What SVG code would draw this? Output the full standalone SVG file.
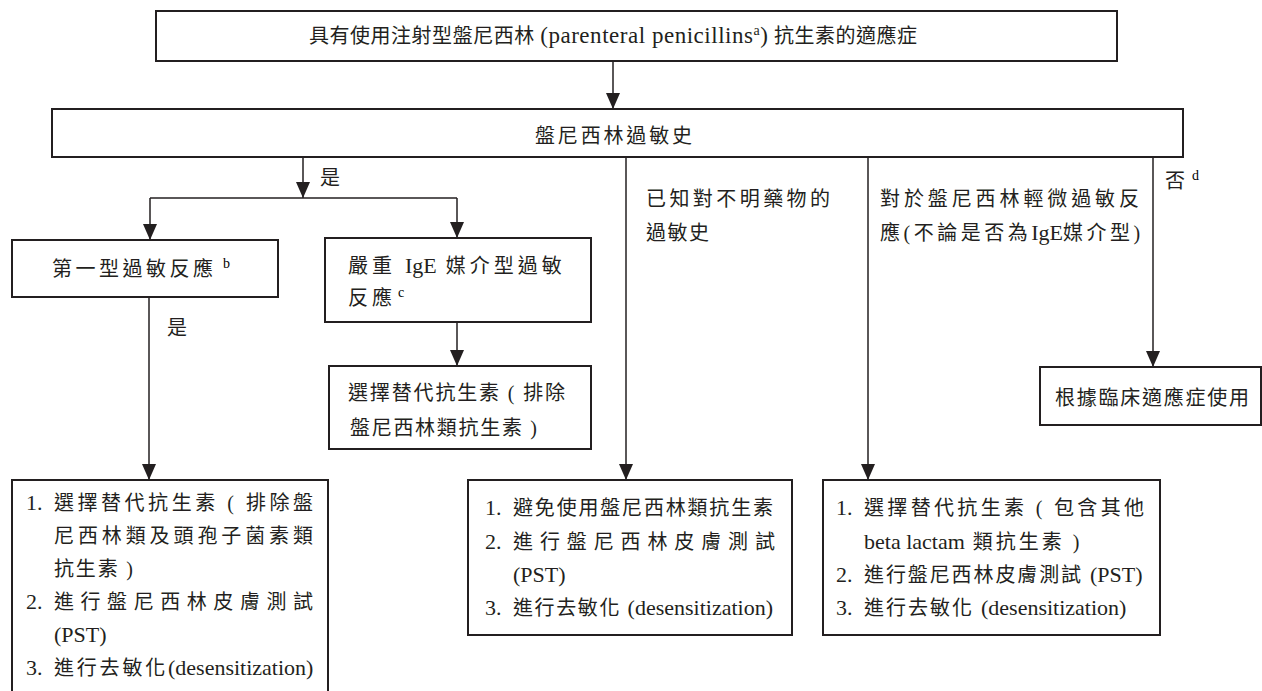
<svg xmlns="http://www.w3.org/2000/svg" width="1262" height="691" viewBox="0 0 1262 691">
<style>
.box{fill:#fff;stroke:#231f20;stroke-width:2}
.ln{fill:none;stroke:#231f20;stroke-width:1.5}
.t{font-family:"Liberation Serif","Noto Sans CJK TC",serif;font-size:20px;fill:#231f20}
.lat{font-family:"Liberation Serif",serif;font-size:22px;letter-spacing:0}
.sup{font-family:"Liberation Serif",serif;font-size:14px;letter-spacing:0}
</style>
<defs>
<marker id="ah" markerUnits="userSpaceOnUse" markerWidth="16" markerHeight="14" refX="16" refY="7" orient="auto" viewBox="0 0 16 14">
<path d="M0,0 L16,7 L0,14 z" fill="#231f20"/>
</marker>
</defs>
<rect width="1262" height="691" fill="#fff"/>
<g id="connectors">
<line class="ln" x1="613" y1="61" x2="613" y2="109" marker-end="url(#ah)"/>
<line class="ln" x1="303" y1="157" x2="303" y2="198" marker-end="url(#ah)"/>
<line class="ln" x1="150" y1="198" x2="457" y2="198"/>
<line class="ln" x1="150" y1="198" x2="150" y2="240" marker-end="url(#ah)"/>
<line class="ln" x1="457" y1="198" x2="457" y2="238" marker-end="url(#ah)"/>
<line class="ln" x1="149" y1="297" x2="149" y2="480" marker-end="url(#ah)"/>
<line class="ln" x1="457" y1="322" x2="457" y2="366" marker-end="url(#ah)"/>
<line class="ln" x1="626" y1="157" x2="626" y2="480" marker-end="url(#ah)"/>
<line class="ln" x1="868" y1="157" x2="868" y2="480" marker-end="url(#ah)"/>
<line class="ln" x1="1153" y1="157" x2="1153" y2="367" marker-end="url(#ah)"/>
<text class="t" x="320" y="185">是</text>
<text class="t" x="167" y="335">是</text>
<text class="t" x="1165" y="188">否</text>
<text class="sup" x="1192" y="180">d</text>
<text class="t" x="646" y="206" textLength="184" lengthAdjust="spacing">已知對不明藥物的</text>
<text class="t" x="646" y="240" textLength="63" lengthAdjust="spacing">過敏史</text>
<text class="t" x="880" y="206" textLength="259" lengthAdjust="spacing">對於盤尼西林輕微過敏反</text>
<text class="t" x="880" y="240" style="letter-spacing:3.5px">應(不論是否為<tspan class="lat">IgE</tspan>媒介型)</text>
</g>
<g id="n-top">
<rect class="box" x="156" y="11" width="961" height="50"/>
<text class="t" x="309" y="43" textLength="608" lengthAdjust="spacing">具有使用注射型盤尼西林 <tspan class="lat" style="font-size:23px">(parenteral penicillins</tspan><tspan class="sup" dy="-8">a</tspan><tspan class="lat" style="font-size:23px" dy="8">)</tspan> 抗生素的適應症</text>
</g>
<g id="n-history">
<rect class="box" x="52" y="109" width="1131" height="48"/>
<text class="t" x="535" y="143" textLength="157" lengthAdjust="spacing">盤尼西林過敏史</text>
</g>
<g id="n-type1">
<rect class="box" x="12" y="240" width="266" height="57"/>
<text class="t" x="52" y="276" textLength="161" lengthAdjust="spacing">第一型過敏反應</text>
<text class="sup" x="223" y="268">b</text>
</g>
<g id="n-severe">
<rect class="box" x="325" y="238" width="266" height="84"/>
<text class="t" x="348" y="273" style="letter-spacing:4px">嚴重 <tspan class="lat">IgE</tspan> 媒介型過敏</text>
<text class="t" x="348" y="305" style="letter-spacing:4px">反應</text>
<text class="sup" x="398" y="297">c</text>
</g>
<g id="n-alt1">
<rect class="box" x="329" y="366" width="262" height="83"/>
<text class="t" x="348" y="400" textLength="217" lengthAdjust="spacing">選擇替代抗生素 ( 排除</text>
<text class="t" x="350" y="435" textLength="187" lengthAdjust="spacing">盤尼西林類抗生素 )</text>
</g>
<g id="n-use">
<rect class="box" x="1040" y="367" width="221" height="58"/>
<text class="t" x="1055" y="405" textLength="194" lengthAdjust="spacing">根據臨床適應症使用</text>
</g>
<g id="n-left">
<rect class="box" x="12" y="480" width="316" height="225"/>
<text class="t lat" x="26" y="510">1.</text>
<text class="t" x="54" y="510" textLength="259" lengthAdjust="spacing">選擇替代抗生素 ( 排除盤</text>
<text class="t" x="54" y="543" textLength="259" lengthAdjust="spacing">尼西林類及頭孢子菌素類</text>
<text class="t" x="54" y="576" textLength="79" lengthAdjust="spacing">抗生素 )</text>
<text class="t lat" x="26" y="609">2.</text>
<text class="t" x="54" y="609" textLength="259" lengthAdjust="spacing">進行盤尼西林皮膚測試</text>
<text class="t lat" x="54" y="642">(PST)</text>
<text class="t lat" x="26" y="675">3.</text>
<text class="t" x="54" y="675" style="letter-spacing:2.8px">進行去敏化<tspan class="lat">(desensitization)</tspan></text>
</g>
<g id="n-mid">
<rect class="box" x="468" y="480" width="324" height="155"/>
<text class="t lat" x="485" y="515">1.</text>
<text class="t" x="513" y="515" textLength="260" lengthAdjust="spacing">避免使用盤尼西林類抗生素</text>
<text class="t lat" x="485" y="549">2.</text>
<text class="t" x="513" y="549" textLength="262" lengthAdjust="spacing">進行盤尼西林皮膚測試</text>
<text class="t lat" x="513" y="582">(PST)</text>
<text class="t lat" x="485" y="615">3.</text>
<text class="t" x="513" y="615" style="letter-spacing:1.6px">進行去敏化 <tspan class="lat">(desensitization)</tspan></text>
</g>
<g id="n-right">
<rect class="box" x="823" y="480" width="337" height="155"/>
<text class="t lat" x="836" y="515">1.</text>
<text class="t" x="864" y="515" textLength="280" lengthAdjust="spacing">選擇替代抗生素 ( 包含其他</text>
<text class="t" x="864" y="549" style="letter-spacing:3px"><tspan class="lat">beta lactam</tspan> 類抗生素 )</text>
<text class="t lat" x="836" y="582">2.</text>
<text class="t" x="864" y="582" style="letter-spacing:1.9px">進行盤尼西林皮膚測試 <tspan class="lat">(PST)</tspan></text>
<text class="t lat" x="836" y="615">3.</text>
<text class="t" x="864" y="615" style="letter-spacing:2px">進行去敏化 <tspan class="lat">(desensitization)</tspan></text>
</g>
</svg>
